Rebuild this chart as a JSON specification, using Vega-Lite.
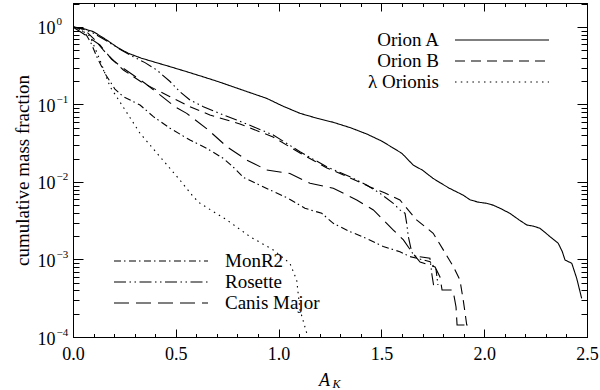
{
  "$schema": "https://vega.github.io/schema/vega-lite/v6.json",
  "width": 514,
  "height": 334,
  "autosize": {"type": "none"},
  "padding": {"left": 73, "top": 3, "right": 13, "bottom": 53},
  "background": "white",
  "config": {
    "font": "Liberation Serif",
    "view": {"stroke": "black", "strokeWidth": 1},
    "axis": {"grid": false, "labelFlush": false, "labelOverlap": false, "domainColor": "black", "tickColor": "black", "labelColor": "black", "titleColor": "black", "labelFont": "Liberation Serif", "titleFont": "Liberation Serif", "labelFontSize": 18, "titleFontSize": 19, "titleFontWeight": "normal", "tickWidth": 1, "domainWidth": 1},
    "legend": {"labelFont": "Liberation Serif", "labelFontSize": 19, "labelColor": "black", "symbolType": "M -4.7 0 L 4.7 0", "symbolStrokeColor": "black", "symbolFillColor": "transparent", "symbolStrokeWidth": 1.1, "symbolSize": 400, "rowPadding": 0, "padding": 0, "orient": "none"}
  },
  "data": {"values": [
    {"cloud": "Orion A", "ak": 0, "f": 1},
    {"cloud": "Orion A", "ak": 0.05, "f": 0.955},
    {"cloud": "Orion A", "ak": 0.1, "f": 0.869},
    {"cloud": "Orion A", "ak": 0.164, "f": 0.679},
    {"cloud": "Orion A", "ak": 0.22, "f": 0.537},
    {"cloud": "Orion A", "ak": 0.269, "f": 0.458},
    {"cloud": "Orion A", "ak": 0.33, "f": 0.398},
    {"cloud": "Orion A", "ak": 0.391, "f": 0.356},
    {"cloud": "Orion A", "ak": 0.47, "f": 0.309},
    {"cloud": "Orion A", "ak": 0.553, "f": 0.265},
    {"cloud": "Orion A", "ak": 0.63, "f": 0.229},
    {"cloud": "Orion A", "ak": 0.707, "f": 0.197},
    {"cloud": "Orion A", "ak": 0.82, "f": 0.155},
    {"cloud": "Orion A", "ak": 0.942, "f": 0.12},
    {"cloud": "Orion A", "ak": 1.02, "f": 0.0955},
    {"cloud": "Orion A", "ak": 1.104, "f": 0.0769},
    {"cloud": "Orion A", "ak": 1.19, "f": 0.0661},
    {"cloud": "Orion A", "ak": 1.266, "f": 0.0589},
    {"cloud": "Orion A", "ak": 1.35, "f": 0.0501},
    {"cloud": "Orion A", "ak": 1.428, "f": 0.0417},
    {"cloud": "Orion A", "ak": 1.5, "f": 0.0339},
    {"cloud": "Orion A", "ak": 1.55, "f": 0.0282},
    {"cloud": "Orion A", "ak": 1.6, "f": 0.0234},
    {"cloud": "Orion A", "ak": 1.655, "f": 0.0165},
    {"cloud": "Orion A", "ak": 1.7, "f": 0.0142},
    {"cloud": "Orion A", "ak": 1.75, "f": 0.0112},
    {"cloud": "Orion A", "ak": 1.785, "f": 0.0098},
    {"cloud": "Orion A", "ak": 1.83, "f": 0.00832},
    {"cloud": "Orion A", "ak": 1.898, "f": 0.00676},
    {"cloud": "Orion A", "ak": 1.931, "f": 0.00589},
    {"cloud": "Orion A", "ak": 1.97, "f": 0.0055},
    {"cloud": "Orion A", "ak": 2.012, "f": 0.00531},
    {"cloud": "Orion A", "ak": 2.045, "f": 0.00501},
    {"cloud": "Orion A", "ak": 2.077, "f": 0.00458},
    {"cloud": "Orion A", "ak": 2.125, "f": 0.00394},
    {"cloud": "Orion A", "ak": 2.17, "f": 0.00324},
    {"cloud": "Orion A", "ak": 2.207, "f": 0.00279},
    {"cloud": "Orion A", "ak": 2.24, "f": 0.00269},
    {"cloud": "Orion A", "ak": 2.271, "f": 0.00253},
    {"cloud": "Orion A", "ak": 2.3, "f": 0.00219},
    {"cloud": "Orion A", "ak": 2.32, "f": 0.00197},
    {"cloud": "Orion A", "ak": 2.36, "f": 0.00162},
    {"cloud": "Orion A", "ak": 2.38, "f": 0.00126},
    {"cloud": "Orion A", "ak": 2.393, "f": 0.000986},
    {"cloud": "Orion A", "ak": 2.426, "f": 0.000893},
    {"cloud": "Orion A", "ak": 2.45, "f": 0.000571},
    {"cloud": "Orion A", "ak": 2.474, "f": 0.000316},

    {"cloud": "Orion B", "ak": 0, "f": 1},
    {"cloud": "Orion B", "ak": 0.03, "f": 0.977},
    {"cloud": "Orion B", "ak": 0.058, "f": 0.912},
    {"cloud": "Orion B", "ak": 0.107, "f": 0.679},
    {"cloud": "Orion B", "ak": 0.147, "f": 0.505},
    {"cloud": "Orion B", "ak": 0.2, "f": 0.363},
    {"cloud": "Orion B", "ak": 0.245, "f": 0.279},
    {"cloud": "Orion B", "ak": 0.342, "f": 0.188},
    {"cloud": "Orion B", "ak": 0.472, "f": 0.126},
    {"cloud": "Orion B", "ak": 0.569, "f": 0.0938},
    {"cloud": "Orion B", "ak": 0.666, "f": 0.0733},
    {"cloud": "Orion B", "ak": 0.812, "f": 0.056},
    {"cloud": "Orion B", "ak": 0.973, "f": 0.0381},
    {"cloud": "Orion B", "ak": 1.104, "f": 0.0237},
    {"cloud": "Orion B", "ak": 1.235, "f": 0.0152},
    {"cloud": "Orion B", "ak": 1.347, "f": 0.0113},
    {"cloud": "Orion B", "ak": 1.445, "f": 0.00861},
    {"cloud": "Orion B", "ak": 1.518, "f": 0.00721},
    {"cloud": "Orion B", "ak": 1.59, "f": 0.00586},
    {"cloud": "Orion B", "ak": 1.671, "f": 0.00324},
    {"cloud": "Orion B", "ak": 1.752, "f": 0.00218},
    {"cloud": "Orion B", "ak": 1.801, "f": 0.00133},
    {"cloud": "Orion B", "ak": 1.85, "f": 0.000807},
    {"cloud": "Orion B", "ak": 1.882, "f": 0.000543},
    {"cloud": "Orion B", "ak": 1.898, "f": 0.0003},
    {"cloud": "Orion B", "ak": 1.907, "f": 0.000204},
    {"cloud": "Orion B", "ak": 1.915, "f": 0.000143},
    {"cloud": "Orion B", "ak": 1.936, "f": 0.000143},

    {"cloud": "λ Orionis", "ak": 0, "f": 1},
    {"cloud": "λ Orionis", "ak": 0.04, "f": 0.912},
    {"cloud": "λ Orionis", "ak": 0.083, "f": 0.759},
    {"cloud": "λ Orionis", "ak": 0.131, "f": 0.375},
    {"cloud": "λ Orionis", "ak": 0.18, "f": 0.17},
    {"cloud": "λ Orionis", "ak": 0.243, "f": 0.0938},
    {"cloud": "λ Orionis", "ak": 0.326, "f": 0.0425},
    {"cloud": "λ Orionis", "ak": 0.423, "f": 0.0212},
    {"cloud": "λ Orionis", "ak": 0.52, "f": 0.0106},
    {"cloud": "λ Orionis", "ak": 0.585, "f": 0.00646},
    {"cloud": "λ Orionis", "ak": 0.618, "f": 0.00531},
    {"cloud": "λ Orionis", "ak": 0.748, "f": 0.00324},
    {"cloud": "λ Orionis", "ak": 0.861, "f": 0.00197},
    {"cloud": "λ Orionis", "ak": 0.974, "f": 0.00133},
    {"cloud": "λ Orionis", "ak": 1.055, "f": 0.000893},
    {"cloud": "λ Orionis", "ak": 1.088, "f": 0.000543},
    {"cloud": "λ Orionis", "ak": 1.104, "f": 0.000224},
    {"cloud": "λ Orionis", "ak": 1.137, "f": 0.000112},
    {"cloud": "λ Orionis", "ak": 1.14, "f": 0.0001},

    {"cloud": "MonR2", "ak": 0, "f": 1},
    {"cloud": "MonR2", "ak": 0.03, "f": 0.955},
    {"cloud": "MonR2", "ak": 0.06, "f": 0.832},
    {"cloud": "MonR2", "ak": 0.09, "f": 0.603},
    {"cloud": "MonR2", "ak": 0.115, "f": 0.417},
    {"cloud": "MonR2", "ak": 0.16, "f": 0.24},
    {"cloud": "MonR2", "ak": 0.204, "f": 0.158},
    {"cloud": "MonR2", "ak": 0.245, "f": 0.126},
    {"cloud": "MonR2", "ak": 0.326, "f": 0.0986},
    {"cloud": "MonR2", "ak": 0.391, "f": 0.0697},
    {"cloud": "MonR2", "ak": 0.472, "f": 0.0493},
    {"cloud": "MonR2", "ak": 0.569, "f": 0.0348},
    {"cloud": "MonR2", "ak": 0.65, "f": 0.0272},
    {"cloud": "MonR2", "ak": 0.731, "f": 0.0202},
    {"cloud": "MonR2", "ak": 0.78, "f": 0.0155},
    {"cloud": "MonR2", "ak": 0.828, "f": 0.0115},
    {"cloud": "MonR2", "ak": 0.958, "f": 0.00789},
    {"cloud": "MonR2", "ak": 1.046, "f": 0.00617},
    {"cloud": "MonR2", "ak": 1.128, "f": 0.00458},
    {"cloud": "MonR2", "ak": 1.21, "f": 0.00394},
    {"cloud": "MonR2", "ak": 1.266, "f": 0.00293},
    {"cloud": "MonR2", "ak": 1.347, "f": 0.00229},
    {"cloud": "MonR2", "ak": 1.428, "f": 0.00187},
    {"cloud": "MonR2", "ak": 1.509, "f": 0.00147},
    {"cloud": "MonR2", "ak": 1.59, "f": 0.00126},
    {"cloud": "MonR2", "ak": 1.639, "f": 0.00109},
    {"cloud": "MonR2", "ak": 1.737, "f": 0.000938},
    {"cloud": "MonR2", "ak": 1.766, "f": 0.000733},
    {"cloud": "MonR2", "ak": 1.775, "f": 0.000469},

    {"cloud": "Rosette", "ak": 0, "f": 1},
    {"cloud": "Rosette", "ak": 0.05, "f": 0.933},
    {"cloud": "Rosette", "ak": 0.1, "f": 0.832},
    {"cloud": "Rosette", "ak": 0.17, "f": 0.646},
    {"cloud": "Rosette", "ak": 0.23, "f": 0.513},
    {"cloud": "Rosette", "ak": 0.293, "f": 0.414},
    {"cloud": "Rosette", "ak": 0.35, "f": 0.347},
    {"cloud": "Rosette", "ak": 0.407, "f": 0.279},
    {"cloud": "Rosette", "ak": 0.472, "f": 0.198},
    {"cloud": "Rosette", "ak": 0.52, "f": 0.146},
    {"cloud": "Rosette", "ak": 0.569, "f": 0.114},
    {"cloud": "Rosette", "ak": 0.634, "f": 0.0938},
    {"cloud": "Rosette", "ak": 0.731, "f": 0.0733},
    {"cloud": "Rosette", "ak": 0.796, "f": 0.0631},
    {"cloud": "Rosette", "ak": 0.88, "f": 0.0513},
    {"cloud": "Rosette", "ak": 0.974, "f": 0.0404},
    {"cloud": "Rosette", "ak": 1.104, "f": 0.0246},
    {"cloud": "Rosette", "ak": 1.234, "f": 0.0157},
    {"cloud": "Rosette", "ak": 1.347, "f": 0.0117},
    {"cloud": "Rosette", "ak": 1.428, "f": 0.00914},
    {"cloud": "Rosette", "ak": 1.493, "f": 0.00714},
    {"cloud": "Rosette", "ak": 1.558, "f": 0.00531},
    {"cloud": "Rosette", "ak": 1.59, "f": 0.00436},
    {"cloud": "Rosette", "ak": 1.615, "f": 0.00394},
    {"cloud": "Rosette", "ak": 1.623, "f": 0.00293},
    {"cloud": "Rosette", "ak": 1.631, "f": 0.00197},
    {"cloud": "Rosette", "ak": 1.647, "f": 0.00126},
    {"cloud": "Rosette", "ak": 1.659, "f": 0.00111},
    {"cloud": "Rosette", "ak": 1.736, "f": 0.00104},
    {"cloud": "Rosette", "ak": 1.746, "f": 0.000631},
    {"cloud": "Rosette", "ak": 1.756, "f": 0.000429},

    {"cloud": "Canis Major", "ak": 0, "f": 1},
    {"cloud": "Canis Major", "ak": 0.058, "f": 0.794},
    {"cloud": "Canis Major", "ak": 0.131, "f": 0.586},
    {"cloud": "Canis Major", "ak": 0.188, "f": 0.383},
    {"cloud": "Canis Major", "ak": 0.245, "f": 0.293},
    {"cloud": "Canis Major", "ak": 0.35, "f": 0.188},
    {"cloud": "Canis Major", "ak": 0.42, "f": 0.135},
    {"cloud": "Canis Major", "ak": 0.496, "f": 0.0938},
    {"cloud": "Canis Major", "ak": 0.553, "f": 0.0769},
    {"cloud": "Canis Major", "ak": 0.658, "f": 0.0469},
    {"cloud": "Canis Major", "ak": 0.748, "f": 0.0286},
    {"cloud": "Canis Major", "ak": 0.845, "f": 0.0192},
    {"cloud": "Canis Major", "ak": 0.942, "f": 0.0143},
    {"cloud": "Canis Major", "ak": 1.055, "f": 0.0129},
    {"cloud": "Canis Major", "ak": 1.153, "f": 0.00962},
    {"cloud": "Canis Major", "ak": 1.266, "f": 0.0083},
    {"cloud": "Canis Major", "ak": 1.38, "f": 0.00586},
    {"cloud": "Canis Major", "ak": 1.461, "f": 0.00436},
    {"cloud": "Canis Major", "ak": 1.558, "f": 0.0024},
    {"cloud": "Canis Major", "ak": 1.607, "f": 0.00179},
    {"cloud": "Canis Major", "ak": 1.647, "f": 0.00126},
    {"cloud": "Canis Major", "ak": 1.688, "f": 0.000929},
    {"cloud": "Canis Major", "ak": 1.761, "f": 0.0008},
    {"cloud": "Canis Major", "ak": 1.785, "f": 0.000594},
    {"cloud": "Canis Major", "ak": 1.795, "f": 0.000404},
    {"cloud": "Canis Major", "ak": 1.848, "f": 0.000404},
    {"cloud": "Canis Major", "ak": 1.863, "f": 0.000244},
    {"cloud": "Canis Major", "ak": 1.868, "f": 0.000143},
    {"cloud": "Canis Major", "ak": 1.916, "f": 0.000143}
  ]},
  "layer": [
    {
      "transform": [{"filter": {"field": "cloud", "oneOf": ["Orion A", "Orion B", "λ Orionis"]}}],
      "mark": {"type": "line", "color": "black", "strokeWidth": 1.1, "clip": true},
      "encoding": {
        "x": {"field": "ak", "type": "quantitative", "scale": {"domain": [0, 2.5], "nice": false, "zero": false},
          "axis": {"orient": "bottom", "values": [0, 0.5, 1, 1.5, 2, 2.5], "format": ".1f", "tickSize": -8, "labelPadding": 16, "title": "A", "titleFontStyle": "italic", "titleFontSize": 18, "titleX": 251, "titleY": 48, "titleBaseline": "alphabetic", "titleAnchor": "middle"}},
        "y": {"field": "f", "type": "quantitative", "scale": {"type": "log", "domain": [0.0001, 2.04], "nice": false},
          "axis": {"orient": "left", "values": [0.0001, 0.001, 0.01, 0.1, 1], "tickSize": -10, "labelPadding": 28, "labelOffset": 2, "labelExpr": "'10'", "title": "cumulative mass fraction", "titlePadding": 5}},
        "strokeDash": {"field": "cloud", "type": "nominal",
          "scale": {"domain": ["Orion A", "Orion B", "λ Orionis"], "range": [[1, 0], [10, 6], [1.5, 4.3]]},
          "legend": {"title": null, "legendX": 418, "legendY": 26, "labelAlign": "right", "labelOffset": -74}}
      }
    },
    {
      "transform": [{"filter": {"field": "cloud", "oneOf": ["MonR2", "Rosette", "Canis Major"]}}],
      "mark": {"type": "line", "color": "black", "strokeWidth": 1.1, "clip": true},
      "encoding": {
        "x": {"field": "ak", "type": "quantitative", "scale": {"domain": [0, 2.5], "nice": false, "zero": false},
          "axis": {"orient": "top", "values": [0, 0.5, 1, 1.5, 2, 2.5], "tickSize": -8, "labels": false, "title": null}},
        "y": {"field": "f", "type": "quantitative", "scale": {"type": "log", "domain": [0.0001, 2.04], "nice": false},
          "axis": {"orient": "right", "values": [0.0001, 0.001, 0.01, 0.1, 1], "tickSize": -10, "labels": false, "title": null}},
        "strokeDash": {"field": "cloud", "type": "nominal",
          "scale": {"domain": ["MonR2", "Rosette", "Canis Major"], "range": [[7, 3, 1.5, 3.5], [12, 3.5, 1.5, 3.5, 1.5, 3.5], [15, 7]]},
          "legend": {"title": null, "legendX": 77, "legendY": 247, "labelAlign": "left", "labelOffset": 53}}
      }
    },
    {
      "mark": {"type": "point", "opacity": 0},
      "encoding": {
        "x": {"field": "ak", "type": "quantitative", "scale": {"domain": [0, 2.5], "nice": false, "zero": false},
          "axis": {"orient": "bottom", "values": [0.1, 0.2, 0.3, 0.4, 0.6, 0.7, 0.8, 0.9, 1.1, 1.2, 1.3, 1.4, 1.6, 1.7, 1.8, 1.9, 2.1, 2.2, 2.3, 2.4], "tickSize": -3.5, "labels": false, "domain": false, "title": "K", "titleFontStyle": "italic", "titleFontSize": 12, "titleX": 263, "titleY": 50, "titleBaseline": "alphabetic", "titleAnchor": "middle"}},
        "y": {"field": "f", "type": "quantitative", "scale": {"type": "log", "domain": [0.0001, 2.04], "nice": false},
          "axis": {"orient": "left", "values": [0.0002, 0.0003, 0.0004, 0.0005, 0.0006, 0.0007, 0.0008, 0.0009, 0.002, 0.003, 0.004, 0.005, 0.006, 0.007, 0.008, 0.009, 0.02, 0.03, 0.04, 0.05, 0.06, 0.07, 0.08, 0.09, 0.2, 0.3, 0.4, 0.5, 0.6, 0.7, 0.8, 0.9, 2], "tickSize": -6, "labels": false, "domain": false, "title": null}}
      }
    },
    {
      "mark": {"type": "point", "opacity": 0},
      "encoding": {
        "x": {"field": "ak", "type": "quantitative", "scale": {"domain": [0, 2.5], "nice": false, "zero": false},
          "axis": {"orient": "top", "values": [0.1, 0.2, 0.3, 0.4, 0.6, 0.7, 0.8, 0.9, 1.1, 1.2, 1.3, 1.4, 1.6, 1.7, 1.8, 1.9, 2.1, 2.2, 2.3, 2.4], "tickSize": -3.5, "labels": false, "domain": false, "title": null}},
        "y": {"field": "f", "type": "quantitative", "scale": {"type": "log", "domain": [0.0001, 2.04], "nice": false},
          "axis": {"orient": "right", "values": [0.0002, 0.0003, 0.0004, 0.0005, 0.0006, 0.0007, 0.0008, 0.0009, 0.002, 0.003, 0.004, 0.005, 0.006, 0.007, 0.008, 0.009, 0.02, 0.03, 0.04, 0.05, 0.06, 0.07, 0.08, 0.09, 0.2, 0.3, 0.4, 0.5, 0.6, 0.7, 0.8, 0.9, 2], "tickSize": -6, "labels": false, "domain": false, "title": null}}
      }
    },
    {
      "mark": {"type": "point", "opacity": 0},
      "encoding": {
        "x": {"field": "ak", "type": "quantitative", "scale": {"domain": [0, 2.5], "nice": false, "zero": false},
          "axis": null},
        "y": {"field": "f", "type": "quantitative", "scale": {"type": "log", "domain": [0.0001, 2.04], "nice": false},
          "axis": {"orient": "left", "values": [0.0001, 0.001, 0.01, 0.1, 1], "ticks": false, "domain": false, "labelAlign": "left", "labelFontSize": 11, "labelPadding": 17, "labelOffset": -5, "labelExpr": "datum.value >= 0.5 ? '0' : datum.value >= 0.05 ? '−1' : datum.value >= 0.005 ? '−2' : datum.value >= 0.0005 ? '−3' : '−4'", "title": null}}
      }
    }
  ],
  "resolve": {
    "scale": {"strokeDash": "independent"},
    "legend": {"strokeDash": "independent"},
    "axis": {"x": "independent", "y": "independent"}
  }
}
